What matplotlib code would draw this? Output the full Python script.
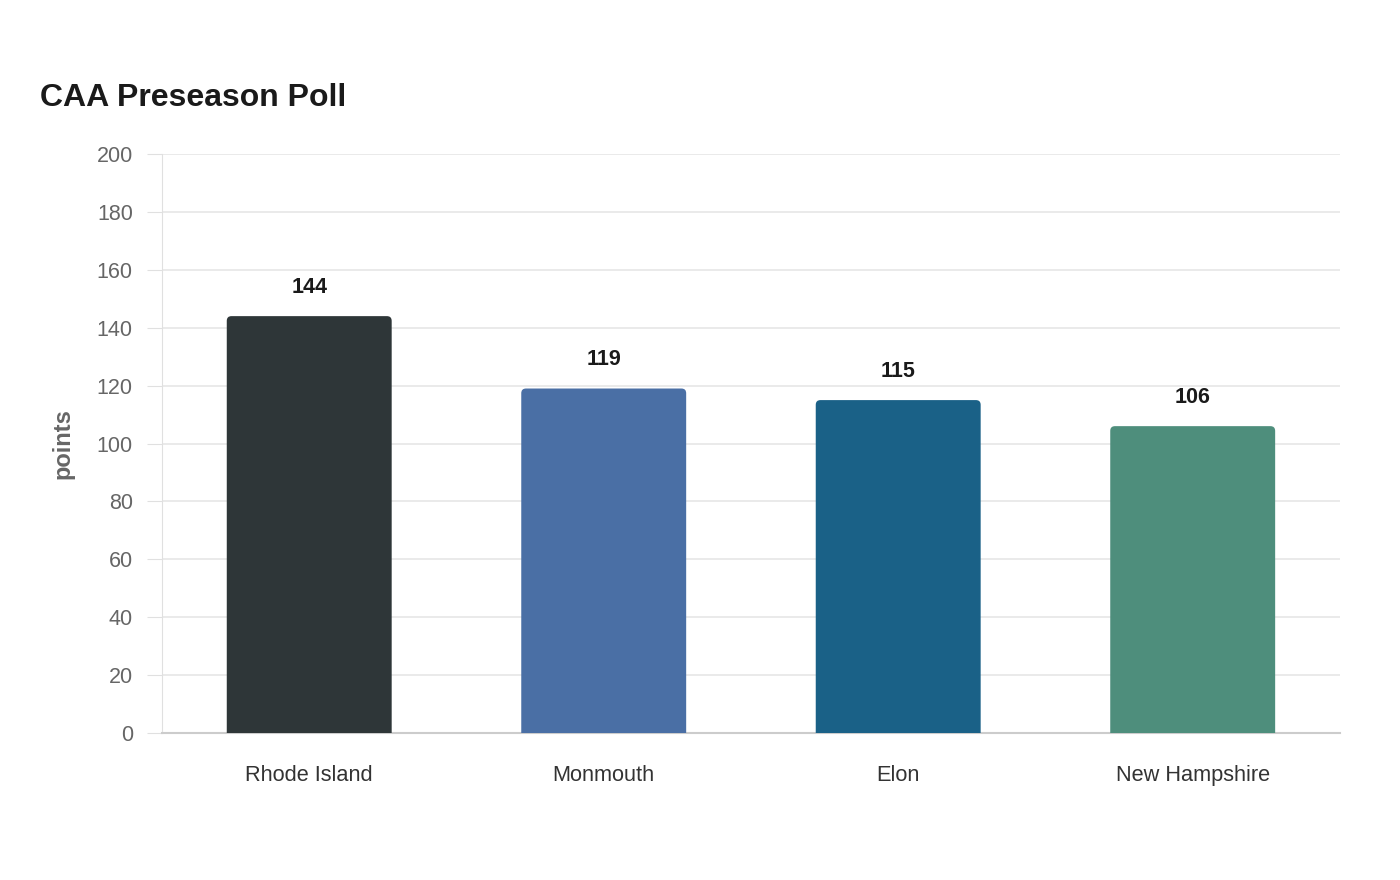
import matplotlib
matplotlib.use("Agg")
import matplotlib.pyplot as plt
from matplotlib.patches import FancyBboxPatch

plt.rcParams['font.family'] = ['Liberation Sans', 'DejaVu Sans']

teams = ['Rhode Island', 'Monmouth', 'Elon', 'New Hampshire']
points = [144, 119, 115, 106]
colors = ['#2e3638', '#4a6fa5', '#1a6187', '#4e8e7c']
yticks = [0, 20, 40, 60, 80, 100, 120, 140, 160, 180, 200]

fig = plt.figure(figsize=(14, 8.8), dpi=100)
ax = fig.add_axes([0.1157, 0.167, 0.8414, 0.658])

x = list(range(len(teams)))
bars = ax.bar(x, points, width=0.56, color='none')

# y data units per x data unit in pixels, so corners stay round
aspect = (200 / 579) / (4 / 1178)

# rounded tops: start the box below zero so only the top corners show
for b, c in zip(bars, colors):
    p = FancyBboxPatch((b.get_x(), -6), b.get_width(), b.get_height() + 6,
                       boxstyle="round,pad=0,rounding_size=0.016",
                       mutation_aspect=aspect,
                       facecolor=c, edgecolor='none', zorder=3)
    ax.add_patch(p)
    b.remove()

for xi, v in zip(x, points):
    ax.annotate(str(v), (xi, v), xytext=(0, 13), textcoords='offset points',
                ha='center', va='bottom', fontsize=15.5, fontweight='bold', color='#1a1a1a')

ax.set_xlim(-0.5, len(teams) - 0.5)
ax.set_ylim(0, 200)
ax.set_yticks(yticks)
ax.set_xticks(x)
ax.set_xticklabels(teams)
ax.grid(axis='y', color='#e6e6e6', linewidth=1.2, zorder=0)
ax.set_axisbelow(True)

for s in ['top', 'right']:
    ax.spines[s].set_visible(False)
ax.spines['left'].set_color('#e0e0e0')
ax.spines['bottom'].set_color('#cccccc')
ax.spines['bottom'].set_linewidth(1.5)

ax.tick_params(axis='y', length=11, color='#e0e0e0', labelcolor='#666666', labelsize=15.5, pad=10)
ax.tick_params(axis='x', length=0, labelcolor='#333333', labelsize=15.7, pad=23)

ax.set_ylabel('points', fontsize=17, fontweight='bold', color='#666666', labelpad=16)

fig.text(0.0286, 0.889, 'CAA Preseason Poll', fontsize=23, fontweight='bold',
         color='#1a1a1a', ha='left', va='center')

fig.savefig('out.png', dpi=100, facecolor='white')
